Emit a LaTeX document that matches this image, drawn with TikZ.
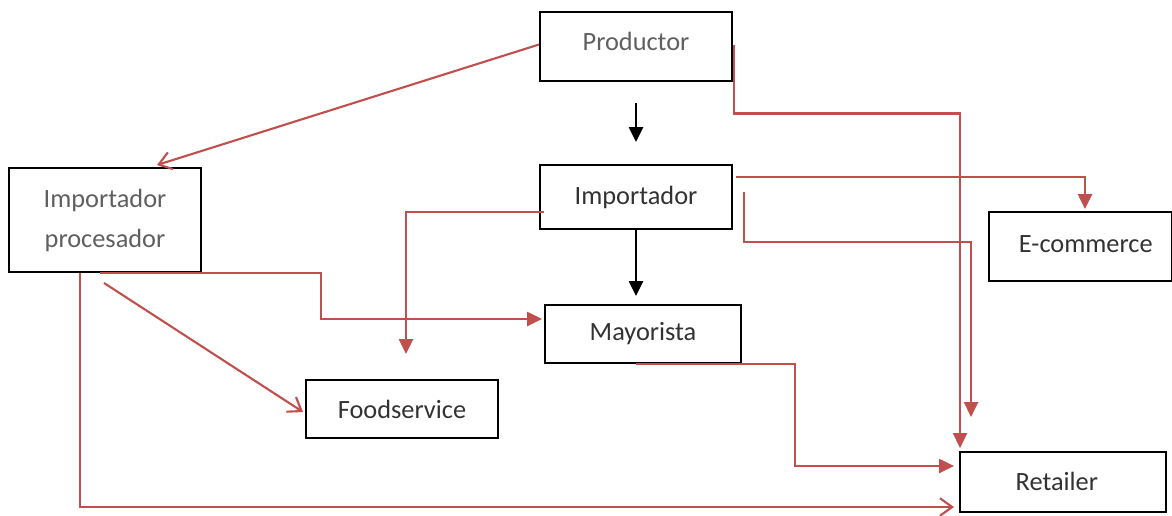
\documentclass[tikz,border=0pt]{standalone}
\usepackage{fontspec}
\setmainfont{Carlito}
\usetikzlibrary{calc,arrows.meta}
\definecolor{ared}{RGB}{192,80,77}
\definecolor{tgray}{RGB}{95,95,95}
\definecolor{tdark}{RGB}{50,50,50}
\tikzset{
  box/.style={draw=black,line width=1.1pt,inner sep=0pt,font=\fontsize{15}{22}\selectfont,text=tdark,align=center},
  redfill/.style={draw=ared,line width=1.2pt,-{Triangle[length=8.5pt,width=8pt]},color=ared},
  redopen/.style={draw=ared,line width=1.2pt,-{Straight Barb[length=7pt,width=10pt,line width=1.2pt]}},
  blackfill/.style={draw=black,line width=1.2pt,-{Triangle[length=8.5pt,width=8pt]}}
}
\begin{document}
\begin{tikzpicture}[x=0.02cm,y=-0.02cm]
\useasboundingbox (0,0) rectangle (1172,515);
\node[box,minimum width=192*0.02cm,minimum height=69*0.02cm,text=tgray] (prod) at (636,46.5) {\raisebox{5.5pt}{Productor}};
\node[box,minimum width=192*0.02cm,minimum height=104*0.02cm,text=tgray] (impp) at (105,220) {\raisebox{3.5pt}{\begin{tabular}{@{}c@{}}Importador\\[1pt]procesador\end{tabular}}};
\node[box,minimum width=192*0.02cm,minimum height=64*0.02cm] (imp) at (636,197) {\raisebox{2pt}{Importador}};
\node[box,minimum width=183*0.02cm,minimum height=69*0.02cm] (ecom) at (1080.5,246.5) {\hspace*{6pt}\raisebox{3pt}{E-commerce}};
\node[box,minimum width=206*0.02cm,minimum height=60*0.02cm] (ret) at (1063,482) {\raisebox{0.5pt}{Retailer}\hspace*{7pt}};
\node[box,minimum width=196*0.02cm,minimum height=58*0.02cm] (may) at (643,334) {Mayorista};
\node[box,minimum width=192*0.02cm,minimum height=58*0.02cm] (food) at (402,409) {Foodservice};

% Productor connectors
\draw[redopen] ($(prod.west)+(0,-2)$) -- ($(impp.north)+(52,-2)$);
\draw[blackfill] ($(prod.south)+(0,21)$) -- ($(imp.north)+(0,-22)$);
\draw[redfill] ($(prod.east)+(1,-2)$) -- ++(0,69) -| ($(ret.north west)+(1,-3)$);

% Importador connectors
\draw[redfill] ($(imp.east)+(3,-20)$) -| ($(ecom.north)+(4.5,-2)$);
\draw[redfill] ($(imp.east)+(11,-5)$) -- ++(0,50) -| ($(ret.north west)+(12,-34)$);
\draw[redfill] ($(imp.west)+(5,15)$) -| ($(food.north)+(4,-25)$);
\draw[blackfill] (imp.south) -- ($(may.north)+(-7,-8)$);

% Importador procesador connectors
\draw[redfill] ($(impp.south)+(-5,0)$) -- ++(221,0) |- ($(may.west)+(-2,-15)$);
\draw[redopen] ($(impp.south)+(-1,10)$) -- ($(food.west)+(-2,3)$);
\draw[redopen] ($(impp.south)+(-25,0)$) |- ($(ret.west)+(-5,25)$);

% Mayorista connector
\draw[redfill] ($(may.south)+(-7,0)$) -- ++(159,0) |- ($(ret.west)+(-5,-16)$);
\end{tikzpicture}
\end{document}
